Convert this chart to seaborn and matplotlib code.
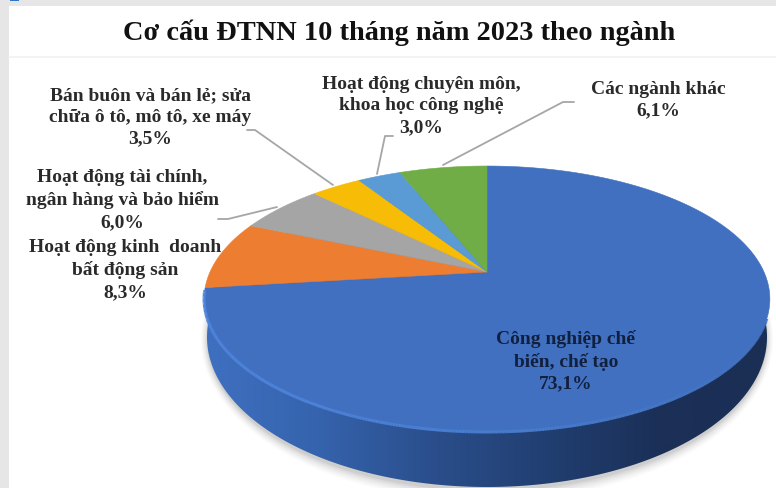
import numpy as np
import pandas as pd
import matplotlib.pyplot as plt
import seaborn as sns
from matplotlib.collections import LineCollection
from matplotlib.patches import Polygon, Rectangle

TITLE = "Cơ cấu ĐTNN 10 tháng năm 2023 theo ngành"
categories = [
    "Công nghiệp chế\nbiến, chế tạo",
    "Hoạt động kinh  doanh\nbất động sản",
    "Hoạt động tài chính,\nngân hàng và bảo hiểm",
    "Bán buôn và bán lẻ; sửa\nchữa ô tô, mô tô, xe máy",
    "Hoạt động chuyên môn,\nkhoa học công nghệ",
    "Các ngành khác",
]
shares = [73.1, 8.3, 6.0, 3.5, 3.0, 6.1]
colors = ["#4170c0", "#ed7d31", "#a5a5a5", "#f7bc05", "#5b9bd5", "#70ad47"]

# label centres and leader lines, in picture pixels
LABEL_POS = [(566, 361), (125, 270), (122, 200), (150, 117), (421, 106), (658, 100)]
LEADERS = [
    None,
    None,
    [(218, 220), (228, 220), (277, 208)],
    [(247, 131), (255, 131), (333, 186)],
    [(377, 175), (385, 137), (393, 137)],
    [(443, 166), (563, 103), (574, 103)],
]

W, H = 776, 489
APEX = (487, 273)
PX, PY, PC = 277.0, 127.5, 0.203   # perspective squash of the unit pie


def project(x, y, depth=0.0):
    """unit pie coords -> picture pixels, tilted, so the apex sits above centre"""
    d = 1 + PC * y
    return APEX[0] + PX * x / d, APEX[1] - PY * y / d + depth


def wedge_outline(w):
    t = np.radians(np.linspace(w.theta1, w.theta2, 200))
    x = np.r_[0, np.cos(t)]
    y = np.r_[0, np.sin(t)]
    return np.column_stack(project(x, y))


sns.set_theme(style="white")
plt.rcParams["font.family"] = ["Liberation Serif", "DejaVu Serif"]

fig = plt.figure(figsize=(W / 100, H / 100), dpi=100, facecolor="#e6e6e6")
ax = fig.add_axes([0, 0, 1, 1])
ax.set_xlim(0, W)
ax.set_ylim(H, 0)
ax.axis("off")

# page
ax.add_patch(Rectangle((9, 7), W, H, fc="white", ec="none", zorder=0))
ax.plot([9, W], [58, 58], color="#f1f1f1", lw=1.2, zorder=0)
ax.add_patch(Rectangle((10, 0), 9, 2, fc="#2f75c8", ec="none", zorder=0))

# let pie work out the angles, then redraw them tilted
df = pd.DataFrame({"category": categories, "share": shares, "color": colors})
pie_ax = fig.add_axes([0, 0, 0.01, 0.01])
wedges, _ = pie_ax.pie(df["share"], startangle=90, counterclock=False)
pie_ax.set_visible(False)

t = np.linspace(0, 2 * np.pi, 720)
ex, ey = np.cos(t), np.sin(t)

# soft shadow
for grow, alpha in zip(np.arange(12, 0, -2), [.02, .03, .04, .05, .07, .09]):
    ax.fill(487 + (279 + grow * 0.6) * ex, 340 + (150 + grow) * ey,
            color="#555555", alpha=alpha, lw=0, zorder=1)

# side wall, horizontal gradient clipped on the lower ellipse
wall_cmap = sns.blend_palette(["#3f70c0", "#3563ad", "#2b4f8c", "#213f72", "#1b3058", "#1b2f55"],
                              as_cmap=True)
grad = np.linspace(0, 1, 256)[None, :]
im = ax.imshow(grad, cmap=wall_cmap, extent=[205, 770, 489, 170], aspect="auto", zorder=2)
clip = Polygon(np.column_stack([487 + 280 * ex, 338 + 150 * ey]), transform=ax.transData)
im.set_clip_path(clip)
ax.set_xlim(0, W)
ax.set_ylim(H, 0)

# top face
for w, c in zip(wedges, df["color"]):
    ax.add_patch(Polygon(wedge_outline(w), closed=True, fc=c, ec=c, lw=0.4, zorder=3))

# lighter rim along the front edge, fades away to the right
a = np.radians(np.linspace(188, 340, 300))
rx, ry = project(np.cos(a), np.sin(a))
pts = np.column_stack([rx, ry])
segs = np.stack([pts[:-1], pts[1:]], axis=1)
rim_cmap = sns.blend_palette(["#4f86dc", "#4c82d8", "#4678c8", "#4170c0"], as_cmap=True)
ax.add_collection(LineCollection(segs, colors=rim_cmap(np.linspace(0, 1, len(segs))),
                                 linewidths=2.2, zorder=4))

# text
ax.text(399, 33, TITLE, ha="center", va="center", fontsize=20.4, fontweight="bold",
        color="#111111", zorder=6)
for i, (name, val) in enumerate(zip(df["category"], df["share"])):
    txt = name + "\n" + f"{val:.1f}".replace(".", ",") + "%"
    col = "#12203f" if i == 0 else "#2a2a2a"
    ax.text(*LABEL_POS[i], txt, ha="center", va="center", fontsize=14.0, fontweight="bold",
            color=col, linespacing=1.36, zorder=6)
    if LEADERS[i]:
        xs, ys = zip(*LEADERS[i])
        ax.plot(xs, ys, color="#a6a6a6", lw=1.3, zorder=5)

fig.savefig("out.png", dpi=100)
